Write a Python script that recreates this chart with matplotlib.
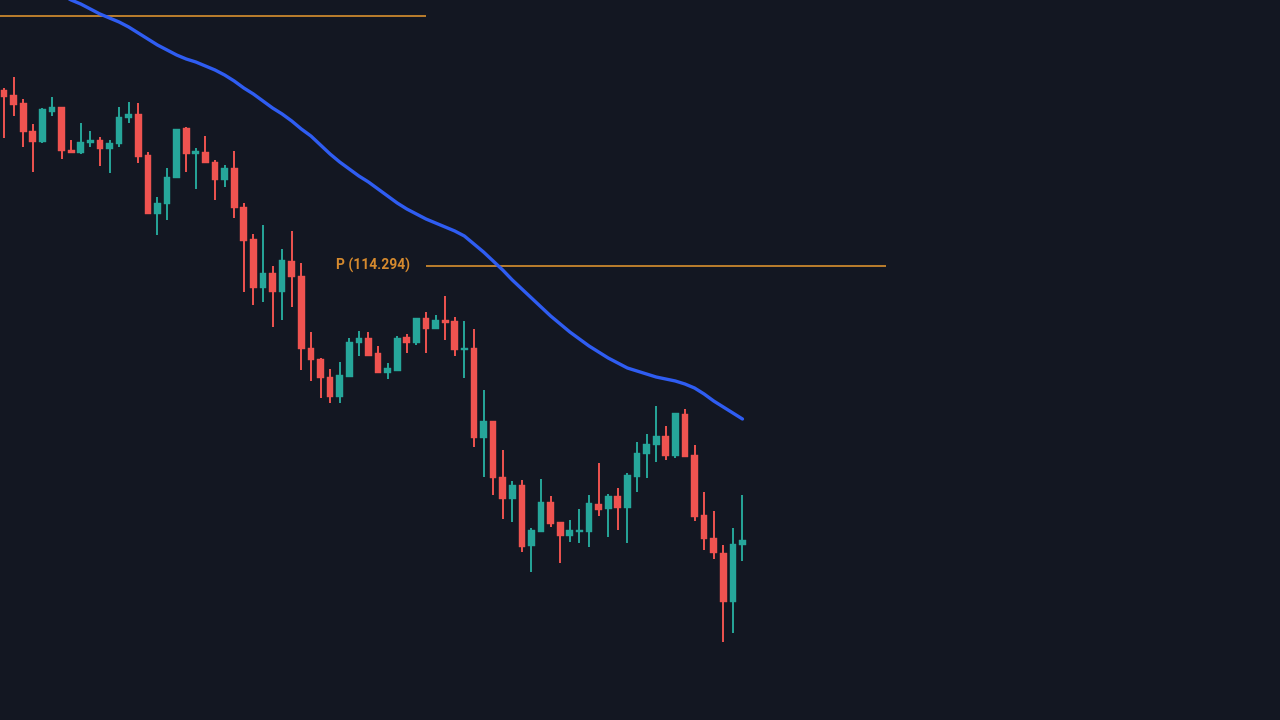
import matplotlib
matplotlib.use("Agg")
import matplotlib.pyplot as plt
import numpy as np

# OHLC data
opens = [116.05, 116.00, 115.92, 115.64, 115.53, 115.83, 115.88, 115.45, 115.42, 115.52,
         115.55, 115.46, 115.51, 115.77, 115.81, 115.40, 114.81, 114.91, 115.17, 115.67,
         115.41, 115.43, 115.33, 115.15, 115.27, 114.88, 114.56, 114.07, 114.22, 114.03,
         114.34, 114.19, 113.47, 113.36, 113.18, 112.98, 113.18, 113.52, 113.57, 113.42,
         113.22, 113.24, 113.58, 113.52, 113.77, 113.66, 113.75, 113.74, 113.45, 113.47,
         112.57, 112.74, 112.18, 111.96, 112.10, 111.49, 111.63, 111.93, 111.73, 111.59,
         111.63, 111.63, 111.91, 111.86, 111.99, 111.87, 112.18, 112.41, 112.50, 112.59,
         112.39, 112.81, 112.40, 111.80, 111.57, 111.42, 110.93, 111.50]
highs = [116.07, 116.18, 115.96, 115.71, 115.87, 115.98, 115.88, 115.55, 115.72, 115.64,
         115.58, 115.55, 115.88, 115.93, 115.92, 115.43, 114.98, 115.27, 115.66, 115.68,
         115.47, 115.59, 115.35, 115.30, 115.44, 114.92, 114.61, 114.70, 114.29, 114.46,
         114.64, 114.32, 113.63, 113.37, 113.26, 113.33, 113.57, 113.64, 113.63, 113.49,
         113.32, 113.59, 113.61, 113.77, 113.83, 113.80, 113.99, 113.78, 113.74, 113.66,
         113.05, 112.74, 112.45, 112.14, 112.15, 111.67, 112.16, 111.99, 111.73, 111.75,
         111.86, 112.00, 112.32, 112.01, 112.07, 112.22, 112.53, 112.61, 112.89, 112.69,
         112.82, 112.86, 112.50, 112.03, 111.84, 111.50, 111.67, 112.00]
lows = [115.57, 115.79, 115.48, 115.23, 115.52, 115.79, 115.36, 115.42, 115.41, 115.48,
        115.29, 115.22, 115.48, 115.72, 115.32, 114.81, 114.60, 114.75, 115.17, 115.23,
        115.06, 115.32, 114.95, 115.08, 114.77, 114.03, 113.90, 113.93, 113.68, 113.75,
        113.88, 113.25, 113.14, 112.97, 112.92, 112.92, 113.18, 113.39, 113.39, 113.22,
        113.16, 113.24, 113.42, 113.50, 113.42, 113.66, 113.55, 113.39, 113.17, 112.48,
        112.18, 112.00, 111.76, 111.73, 111.43, 111.23, 111.63, 111.68, 111.32, 111.53,
        111.52, 111.48, 111.79, 111.58, 111.65, 111.52, 112.03, 112.17, 112.33, 112.35,
        112.37, 112.38, 111.74, 111.45, 111.36, 110.53, 110.62, 111.34]
closes = [115.98, 115.90, 115.63, 115.53, 115.86, 115.88, 115.44, 115.42, 115.53, 115.55,
          115.46, 115.52, 115.78, 115.81, 115.38, 114.81, 114.92, 115.18, 115.66, 115.41,
          115.44, 115.32, 115.15, 115.27, 114.87, 114.54, 114.07, 114.22, 114.03, 114.35,
          114.18, 113.46, 113.35, 113.17, 112.98, 113.20, 113.53, 113.57, 113.39, 113.22,
          113.27, 113.57, 113.52, 113.77, 113.66, 113.75, 113.72, 113.45, 113.47, 112.57,
          112.74, 112.17, 111.96, 112.10, 111.48, 111.65, 111.93, 111.71, 111.59, 111.65,
          111.65, 111.92, 111.85, 111.99, 111.87, 112.20, 112.42, 112.51, 112.59, 112.39,
          112.82, 112.38, 111.78, 111.56, 111.42, 110.93, 111.51, 111.55]

# Moving average values (starting at candle index 6)
ma_start = 6
ma_values = [117.00, 116.95, 116.91, 116.86, 116.81, 116.77, 116.73, 116.68, 116.62, 116.56,
             116.50, 116.45, 116.40, 116.36, 116.33, 116.29, 116.25, 116.20, 116.14, 116.07,
             116.01, 115.94, 115.87, 115.81, 115.74, 115.66, 115.59, 115.50, 115.41, 115.33,
             115.26, 115.19, 115.13, 115.06, 114.99, 114.92, 114.86, 114.81, 114.76, 114.72,
             114.68, 114.64, 114.59, 114.51, 114.43, 114.34, 114.25, 114.15, 114.06, 113.97,
             113.88, 113.79, 113.71, 113.63, 113.56, 113.49, 113.43, 113.37, 113.32, 113.27,
             113.24, 113.21, 113.18, 113.16, 113.14, 113.11, 113.07, 113.01, 112.94, 112.88,
             112.82, 112.76]

# Horizontal levels
top_level = 116.79
p_level = 114.294
p_label = "P (114.294)"

BG = "#131722"
UP = "#26a69a"
DOWN = "#ef5350"

fig = plt.figure(figsize=(12.8, 7.2), dpi=100, facecolor=BG)
ax = fig.add_axes([0, 0, 1, 1])
ax.set_facecolor(BG)
ax.set_axis_off()

x = np.arange(len(opens))
o = np.array(opens); h = np.array(highs); l = np.array(lows); c = np.array(closes)
up = c >= o
colors = np.where(up, UP, DOWN)

ax.vlines(x, l, h, colors=colors, linewidth=1.4, zorder=2)
bottom = np.minimum(o, c)
height = np.maximum(np.abs(c - o), 0.02)
ax.bar(x, height, bottom=bottom, width=0.7, color=colors, edgecolor=colors,
       linewidth=0.3, zorder=3)

ma_x = np.arange(ma_start, ma_start + len(ma_values))
ax.plot(ma_x, ma_values, color="#2f5df2", linewidth=2.4, solid_capstyle="round",
        solid_joinstyle="round", zorder=4)

xmin, xmax = -0.42, 133.05
split = 44.0
p_end = 91.97
ax.hlines(top_level, xmin, split, color="#c8862e", linewidth=1.3, zorder=1)
ax.hlines(p_level, split, p_end, color="#c8862e", linewidth=1.3, zorder=1)
ax.text(42.35, p_level, p_label, color="#d68a2e", fontsize=10, fontweight="bold",
        ha="right", va="center", family=["Roboto", "DejaVu Sans"], zorder=5)

ax.set_xlim(xmin, xmax)
ax.set_ylim(109.75, 116.95)

fig.savefig("out.png", dpi=100, facecolor=BG)
